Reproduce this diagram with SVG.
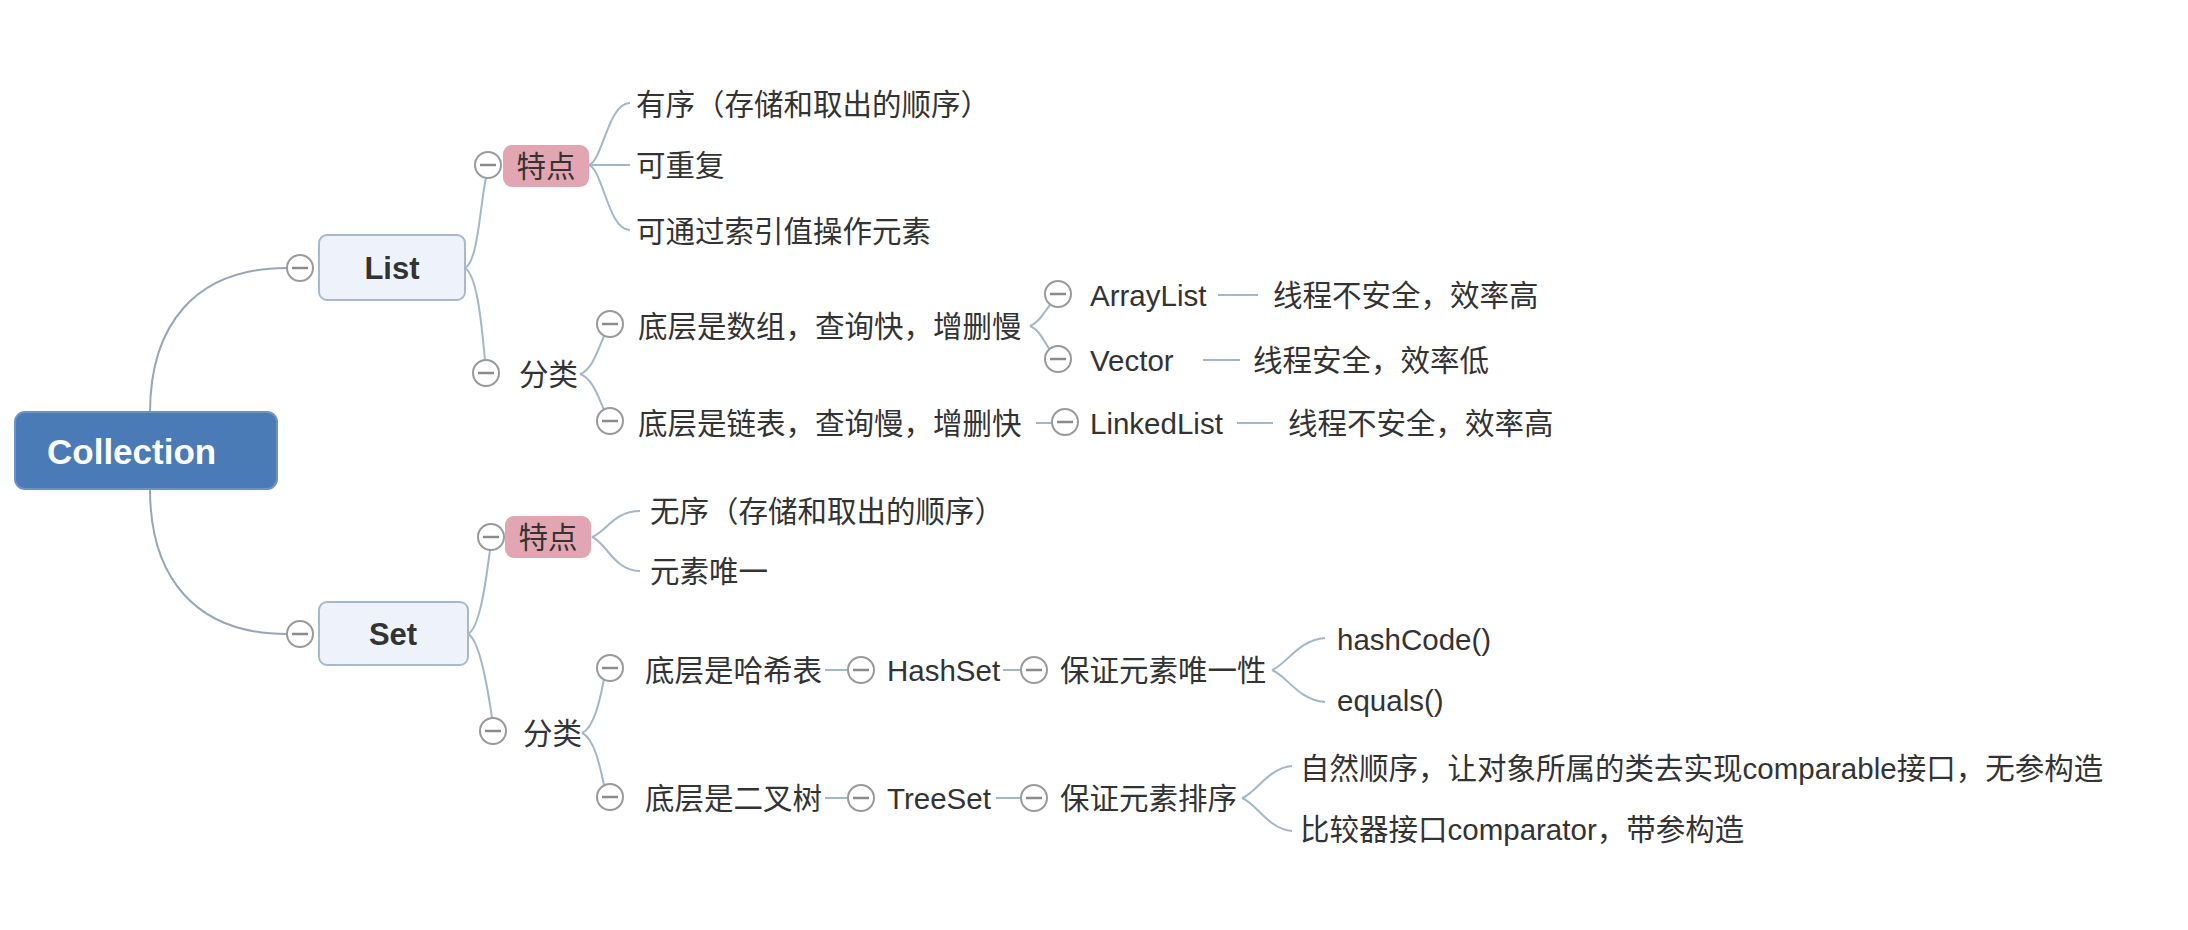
<svg xmlns="http://www.w3.org/2000/svg" width="2188" height="930" viewBox="0 0 2188 930">
<style>
text{font-family:"Liberation Sans","Noto Sans CJK SC",sans-serif;font-size:29.5px;fill:#333;dominant-baseline:central}
.c{fill:#fff;stroke:#9a9a9a;stroke-width:2}
.m{stroke:#8a8a8a;stroke-width:2.5}
.ln{fill:none;stroke:#a3b7cb;stroke-width:2}
.main{fill:none;stroke:#96a6b8;stroke-width:2}
.sub{fill:#eef3fb;stroke:#a6b9d1;stroke-width:2}
.pink{fill:#e2a6b3}
.big{font-size:31px;font-weight:bold;text-anchor:middle}
</style>
<defs>
<g id="col"><circle class="c" r="13"/><line class="m" x1="-8" y1="0" x2="8" y2="0"/></g>
</defs>
<rect width="2188" height="930" fill="#fff"/>
<g id="connectors">
<path class="main" d="M150,413 C150,325 195,268 287,268"/>
<path class="main" d="M150,489 C150,577 195,634 287,634"/>
<path class="ln" d="M465,268 C478,262 480,205 486,178"/>
<path class="ln" d="M465,268 C478,276 482,330 485,360"/>
<path class="ln" d="M589,165 C603,160 608,103 630,103"/>
<path class="ln" d="M589,165 L630,165"/>
<path class="ln" d="M589,165 C603,170 608,230 630,230"/>
<path class="ln" d="M580,374 C592,370 598,350 604,336"/>
<path class="ln" d="M580,374 C592,378 598,396 604,410"/>
<path class="ln" d="M1030,326 C1040,322 1044,312 1050,305"/>
<path class="ln" d="M1030,326 C1040,330 1044,342 1050,350"/>
<path class="ln" d="M1036,423 L1052,423"/>
<path class="ln" d="M1218,295 L1258,295"/>
<path class="ln" d="M1203,360 L1240,360"/>
<path class="ln" d="M1237,423 L1273,423"/>
<path class="ln" d="M468,634 C480,628 486,580 490,550"/>
<path class="ln" d="M468,634 C480,640 488,690 492,718"/>
<path class="ln" d="M592,537 C606,532 614,511 640,511"/>
<path class="ln" d="M592,537 C606,542 614,571 640,571"/>
<path class="ln" d="M582,733 C594,728 600,700 604,679"/>
<path class="ln" d="M582,733 C594,738 600,766 604,785"/>
<path class="ln" d="M825,670 L848,670"/>
<path class="ln" d="M1003,670 L1021,670"/>
<path class="ln" d="M825,798 L848,798"/>
<path class="ln" d="M996,798 L1021,798"/>
<path class="ln" d="M1272,670 C1286,665 1298,640 1325,638"/>
<path class="ln" d="M1272,670 C1286,675 1298,700 1325,702"/>
<path class="ln" d="M1242,798 C1256,793 1268,768 1292,766"/>
<path class="ln" d="M1242,798 C1256,803 1268,829 1292,831"/>
</g>
<g id="collection">
<rect x="15" y="412" width="262" height="77" rx="10" fill="#4a7bb7" stroke="#6b93c4" stroke-width="2"/>
<text x="47" y="451" style="fill:#fff;font-size:35px;font-weight:bold">Collection</text>
</g>
<g id="list">
<use href="#col" x="300" y="268"/>
<rect class="sub" x="319" y="235" width="146" height="65" rx="8"/>
<text class="big" x="392" y="268">List</text>
</g>
<g id="set">
<use href="#col" x="300" y="634"/>
<rect class="sub" x="319" y="602" width="149" height="63" rx="8"/>
<text class="big" x="393" y="634">Set</text>
</g>
<g id="list-tedian">
<use href="#col" x="488" y="165"/>
<rect class="pink" x="503" y="145" width="86" height="42" rx="9"/>
<text x="546" y="166" text-anchor="middle">特点</text>
</g>
<g id="list-t1"><text x="636" y="104">有序（存储和取出的顺序）</text></g>
<g id="list-t2"><text x="636" y="165">可重复</text></g>
<g id="list-t3"><text x="636" y="231">可通过索引值操作元素</text></g>
<g id="list-fenlei">
<use href="#col" x="486" y="373"/>
<text x="519" y="374">分类</text>
</g>
<g id="array-base">
<use href="#col" x="610" y="324"/>
<text x="638" y="326">底层是数组，查询快，增删慢</text>
</g>
<g id="linked-base">
<use href="#col" x="610" y="421"/>
<text x="638" y="423">底层是链表，查询慢，增删快</text>
</g>
<g id="arraylist">
<use href="#col" x="1058" y="294"/>
<text x="1090" y="295">ArrayList</text>
</g>
<g id="arraylist-d"><text x="1273" y="295">线程不安全，效率高</text></g>
<g id="vector">
<use href="#col" x="1058" y="359"/>
<text x="1090" y="360">Vector</text>
</g>
<g id="vector-d"><text x="1253" y="360">线程安全，效率低</text></g>
<g id="linkedlist">
<use href="#col" x="1065" y="422"/>
<text x="1090" y="423">LinkedList</text>
</g>
<g id="linkedlist-d"><text x="1288" y="423">线程不安全，效率高</text></g>
<g id="set-tedian">
<use href="#col" x="491" y="537"/>
<rect class="pink" x="505" y="516" width="86" height="42" rx="9"/>
<text x="548" y="537" text-anchor="middle">特点</text>
</g>
<g id="set-t1"><text x="650" y="511">无序（存储和取出的顺序）</text></g>
<g id="set-t2"><text x="650" y="571">元素唯一</text></g>
<g id="set-fenlei">
<use href="#col" x="493" y="731"/>
<text x="523" y="733">分类</text>
</g>
<g id="hash-base">
<use href="#col" x="610" y="668"/>
<text x="645" y="670">底层是哈希表</text>
</g>
<g id="hashset">
<use href="#col" x="861" y="670"/>
<text x="887" y="670">HashSet</text>
</g>
<g id="hash-unique">
<use href="#col" x="1034" y="670"/>
<text x="1060" y="670">保证元素唯一性</text>
</g>
<g id="hashcode"><text x="1337" y="639">hashCode()</text></g>
<g id="equals"><text x="1337" y="700">equals()</text></g>
<g id="tree-base">
<use href="#col" x="610" y="797"/>
<text x="645" y="798">底层是二叉树</text>
</g>
<g id="treeset">
<use href="#col" x="861" y="798"/>
<text x="887" y="798">TreeSet</text>
</g>
<g id="tree-sort">
<use href="#col" x="1034" y="798"/>
<text x="1060" y="798">保证元素排序</text>
</g>
<g id="natural"><text x="1300" y="768">自然顺序，让对象所属的类去实现comparable接口，无参构造</text></g>
<g id="comparator"><text x="1300" y="829">比较器接口comparator，带参构造</text></g>
</svg>
